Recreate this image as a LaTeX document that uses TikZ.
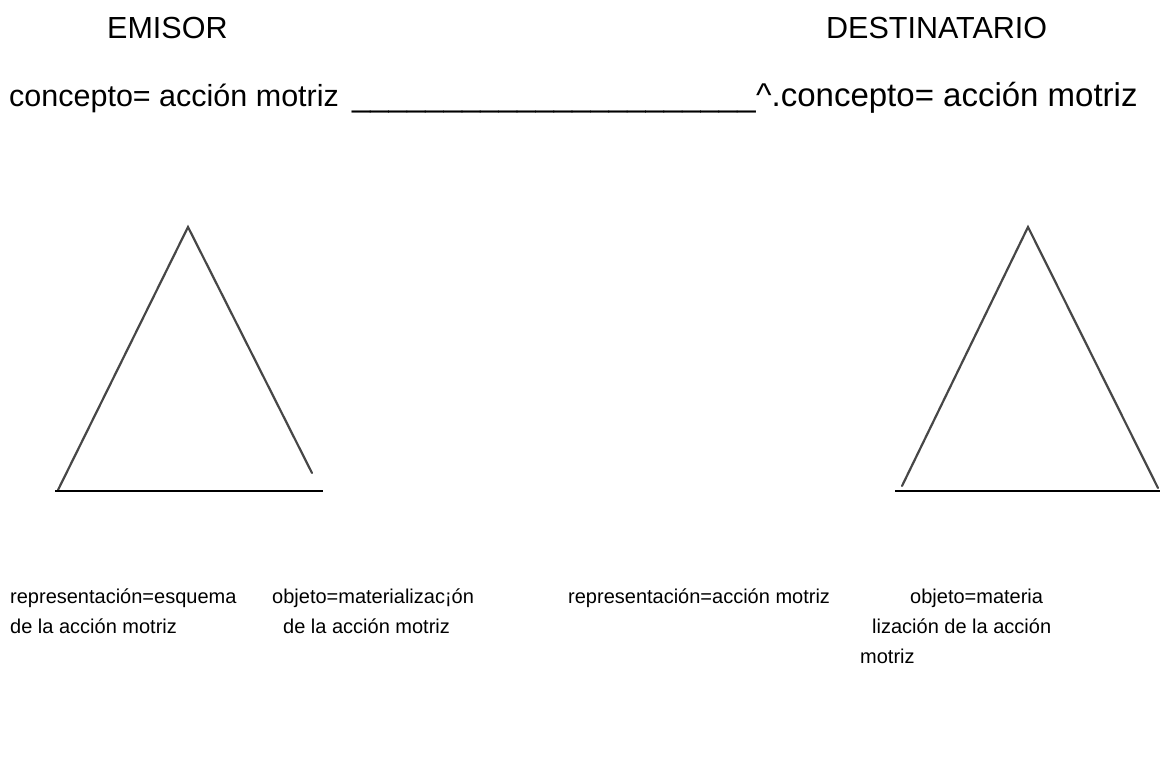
\documentclass[tikz,border=0pt]{standalone}
\usepackage{fontspec}
\setmainfont{Liberation Sans}
\tikzset{
  titulo/.style={anchor=base west, inner sep=0pt, font=\fontsize{30.5}{36}\selectfont},
  concepto/.style={anchor=base west, inner sep=0pt, font=\fontsize{33}{40}\selectfont},
  nota/.style={anchor=base west, inner sep=0pt, font=\fontsize{20}{24}\selectfont},
  lado/.style={draw=black!72, line width=2.2pt, line cap=round},
  base/.style={draw=black, line width=1.7pt},
}
\begin{document}
\begin{tikzpicture}[x=1pt, y=-1pt]
  \useasboundingbox (0,0) rectangle (1163,764);
  % encabezados
  \node[titulo] (emisor) at (107,38) {EMISOR};
  \node[titulo] (destinatario) at (826,38) {DESTINATARIO};
  % linea del concepto
  \node[concepto, font=\fontsize{30.5}{36}\selectfont] (conceptoA) at (9,106) {concepto= acción motriz};
  \node[concepto] (conceptoB) at (756,106) {\textasciicircum.concepto= acción motriz};
  \node[concepto, anchor=base east] (raya) at (conceptoB.base west)
    {\_\_\_\_\_\_\_\_\_\_\_\_\_\_\_\_\_\_\_\_\_\_};
  % triangulo del emisor
  \coordinate (emiIzq) at (58,490);
  \coordinate (emiCima) at (188,227);
  \coordinate (emiDer) at (312,473);
  \coordinate (emiB1) at (55,491);
  \coordinate (emiB2) at (323,491);
  \draw[lado] (emiIzq) -- (emiCima) -- (emiDer);
  \draw[base] (emiB1) -- (emiB2);
  % triangulo del destinatario
  \coordinate (desIzq) at (902,486);
  \coordinate (desCima) at (1028,227);
  \coordinate (desDer) at (1158,488);
  \coordinate (desB1) at (895,491);
  \coordinate (desB2) at (1160,491);
  \draw[lado] (desIzq) -- (desCima) -- (desDer);
  \draw[base] (desB1) -- (desB2);
  % notas de abajo
  \node[nota] (repA) at (10,603) {representación=esquema};
  \node[nota] (repA2) at (10,633) {de la acción motriz};
  \node[nota] (objA) at (272,603) {objeto=materializac¡ón};
  \node[nota] (objA2) at (283,633) {de la acción motriz};
  \node[nota] (repB) at (568,603) {representación=acción motriz};
  \node[nota] (objB) at (910,603) {objeto=materia};
  \node[nota] (objB2) at (872,633) {lización de la acción};
  \node[nota] (objB3) at (860,663) {motriz};
\end{tikzpicture}
\end{document}
